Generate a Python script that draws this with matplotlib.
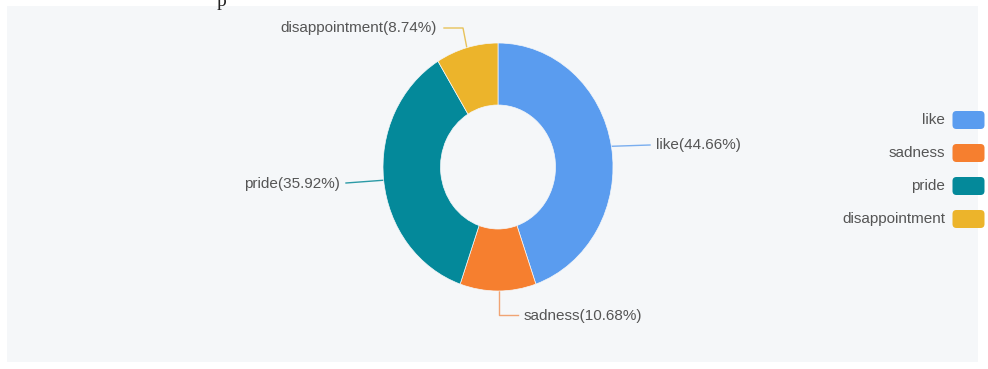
import numpy as np
import matplotlib.pyplot as plt
from matplotlib.patches import Rectangle, FancyBboxPatch

plt.rcParams["font.family"] = ["Liberation Sans", "DejaVu Sans"]

labels = ["like", "sadness", "pride", "disappointment"]
shares = [44.66, 10.68, 35.92, 8.74]
colors = ["#5a9cef", "#f67f2f", "#04899a", "#ecb42b"]
line_colors = ["#7aaeef", "#f0a474", "#2b9aa6", "#e8c25a"]

W, H = 988, 369
fig = plt.figure(figsize=(W / 100, H / 100), dpi=100, facecolor="white")

# overlay axes in pixel coordinates (y down)
ov = fig.add_axes([0, 0, 1, 1])
ov.set_xlim(0, W)
ov.set_ylim(H, 0)
ov.axis("off")
ov.add_patch(Rectangle((7, 6), 971, 356, facecolor="#f5f7f9", edgecolor="none", zorder=0))

# donut geometry (slightly stretched vertically like the source picture)
cx, cy, rx, ry = 498, 167, 115, 124
ax = fig.add_axes([(cx - rx) / W, (H - cy - ry) / H, 2 * rx / W, 2 * ry / H])
ax.pie(shares, colors=colors, startangle=90, counterclock=False, radius=1,
       wedgeprops=dict(width=0.5, edgecolor="#f5f7f9", linewidth=0.5))
ax.set_xlim(-1, 1)
ax.set_ylim(-1, 1)
ax.set_aspect("auto")
ax.axis("off")

# leader lines + labels
cum = np.cumsum([0] + shares[:-1])
mids = 90 - (cum + np.array(shares) / 2) * 3.6
tc = "#555555"
fs = 11
for i, (lab, s, a) in enumerate(zip(labels, shares, mids)):
    ex = cx + rx * np.cos(np.radians(a))
    ey = cy - ry * np.sin(np.radians(a))
    txt = f"{lab}({s:.2f}%)"
    lc = line_colors[i]
    if lab == "like":
        ov.plot([ex, 650], [ey, 145], color=lc, lw=1)
        ov.text(656, 145, txt, ha="left", va="center", fontsize=fs, color=tc)
    elif lab == "sadness":
        ov.plot([ex + 1, ex + 1, 518], [ey, 315, 315], color=lc, lw=1)
        ov.text(524, 316, txt, ha="left", va="center", fontsize=fs, color=tc)
    elif lab == "pride":
        ov.plot([ex, 346], [ey, 183], color=lc, lw=1)
        ov.text(340, 184, txt, ha="right", va="center", fontsize=fs, color=tc)
    else:
        ov.plot([ex, 463, 444], [ey, 28, 28], color=lc, lw=1)
        ov.text(437, 28, txt, ha="right", va="center", fontsize=fs, color=tc)

# legend
for i, (lab, c) in enumerate(zip(labels, colors)):
    y = 120 + i * 33
    ov.add_patch(FancyBboxPatch((954, y - 7.5), 29, 15, boxstyle="round,pad=1.5,rounding_size=4",
                                facecolor=c, edgecolor="none"))
    ov.text(945, y, lab, ha="right", va="center", fontsize=fs, color=tc)

# partly visible caption glyph at the very top edge
ov.text(221, 1, "p", ha="center", va="center", fontsize=14, color="#222222",
        family="Liberation Serif", clip_on=False)

fig.savefig("out.png", dpi=100, facecolor="white")
